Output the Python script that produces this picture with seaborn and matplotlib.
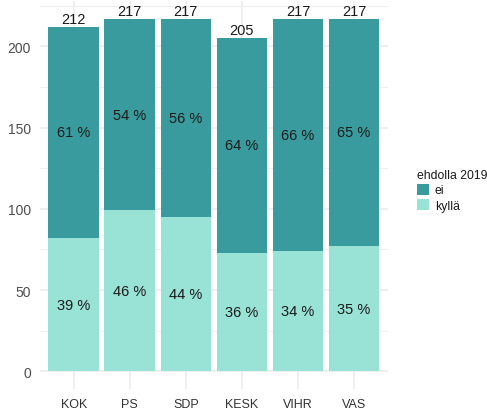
import matplotlib
matplotlib.use("Agg")
import matplotlib.pyplot as plt
from matplotlib.patches import Patch
from matplotlib.ticker import MultipleLocator
import seaborn as sns
import pandas as pd

parties = ["KOK", "PS", "SDP", "KESK", "VIHR", "VAS"]
totals = [212, 217, 217, 205, 217, 217]
kylla = [82, 99, 95, 73, 74, 77]
legend_title = "ehdolla 2019"
legend_labels = ["ei", "kyllä"]

c_ei = "#3a9b9e"
c_kylla = "#98e2d6"

sns.set_theme(style="white")
plt.rcParams["font.family"] = ["Liberation Sans", "DejaVu Sans"]

df = pd.DataFrame({"puolue": parties, "total": totals, "kylla": kylla})
df["ei"] = df["total"] - df["kylla"]

fig = plt.figure(figsize=(4.87, 4.14), dpi=100)
ax = fig.add_axes([40 / 487, (414 - 390) / 414, (387.7 - 40) / 487, (390 - 2) / 414])

sns.barplot(data=df, x="puolue", y="total", color=c_ei, width=0.9, ax=ax,
            saturation=1, linewidth=0, zorder=2)
sns.barplot(data=df, x="puolue", y="kylla", color=c_kylla, width=0.9, ax=ax,
            saturation=1, linewidth=0, zorder=3)

ax.set_xlim(-0.6, len(parties) - 0.4)
ax.set_ylim(-0.05 * max(totals), max(totals) * 1.05)
ax.yaxis.set_major_locator(MultipleLocator(50))
ax.yaxis.set_minor_locator(MultipleLocator(25))
ax.grid(True, which="major", color="#ebebeb", linewidth=1.1, zorder=0)
ax.grid(True, which="minor", axis="y", color="#ebebeb", linewidth=0.6, zorder=0)
ax.set_axisbelow(True)
for s in ax.spines.values():
    s.set_visible(False)
ax.tick_params(axis="both", which="both", length=0, colors="#4d4d4d")
ax.tick_params(axis="y", pad=6.5, labelsize=10)
ax.tick_params(axis="x", pad=6.5, labelsize=9, labelcolor="#333333")
ax.set_xlabel("")
ax.set_ylabel("")

for i, row in df.iterrows():
    pk = round(100 * row["kylla"] / row["total"])
    pe = round(100 * row["ei"] / row["total"])
    ax.text(i, row["kylla"] / 2, f"{pk} %", ha="center", va="center", fontsize=10.5,
            color="#1a1a1a", zorder=5)
    ax.text(i, row["kylla"] + row["ei"] / 2, f"{pe} %", ha="center", va="center",
            fontsize=10.5, color="#1a1a1a", zorder=5)
    ax.text(i, row["total"] + 0.5, f"{row['total']}", ha="center", va="bottom", fontsize=10.5,
            color="#1a1a1a", zorder=5)

handles = [Patch(facecolor=c_ei, edgecolor="none"), Patch(facecolor=c_kylla, edgecolor="none")]
leg = fig.legend(handles, legend_labels, title=legend_title, loc="upper left",
                 bbox_to_anchor=(417 / 487, 1 - 170 / 414), frameon=False,
                 fontsize=8.8, title_fontsize=8.8, handlelength=1.02, handleheight=1.02,
                 handletextpad=0.45, labelspacing=0.22, borderaxespad=0, borderpad=0)
leg._legend_box.align = "left"
for t in leg.get_texts():
    t.set_color("#1a1a1a")
leg.get_title().set_color("#1a1a1a")

fig.savefig("out.png", dpi=100)
